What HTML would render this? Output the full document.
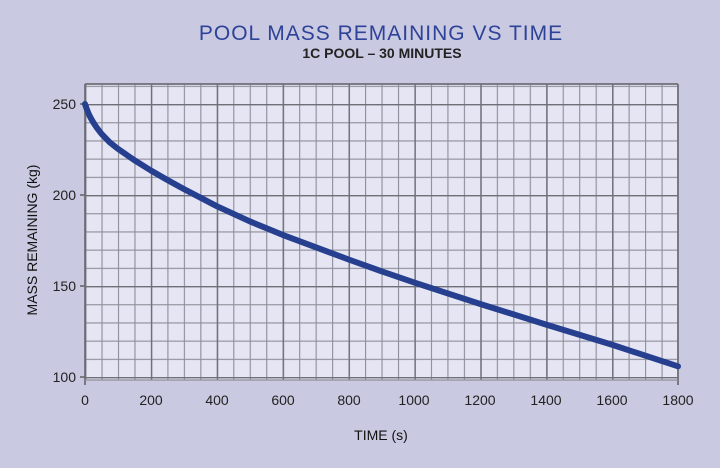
<!DOCTYPE html>
<html><head><style>
body{margin:0;background:#c9c9e1;}
svg{display:block;}
text{font-family:"Liberation Sans",sans-serif;}
</style></head><body>
<svg width="720" height="468" viewBox="0 0 720 468">
<defs>
<pattern id="mi" patternUnits="userSpaceOnUse" x="85" y="104" width="16.472" height="18.2">
<path d="M0.5 0V18.2M0 0.5H16.472" stroke="#8e8e99" stroke-width="1.2" fill="none"/>
</pattern>
<pattern id="ma" patternUnits="userSpaceOnUse" x="85" y="104" width="65.889" height="91">
<path d="M0.5 0V91M0 0.5H65.889" stroke="#6f6f78" stroke-width="1.8" fill="none"/>
</pattern>
</defs>
<rect width="720" height="468" fill="#c9c9e1"/>
<rect x="85" y="84" width="593" height="296" fill="#e5e5f3"/>
<rect x="85" y="84" width="593" height="296" fill="url(#mi)"/>
<rect x="85" y="84" width="593" height="296" fill="url(#ma)"/>
<path d="M85 84V385M678 84V385M85 84H678M80 104H85M80 195H85M80 286H85M80 377H85" stroke="#6f6f78" stroke-width="1.8" fill="none"/>
<path d="M85 380H678" stroke="#8e8e99" stroke-width="1.2"/>
<text x="381" y="40" text-anchor="middle" font-size="21" fill="#2e4298" letter-spacing="1">POOL MASS REMAINING VS TIME</text>
<text x="382" y="58" text-anchor="middle" font-size="14" font-weight="bold" fill="#222">1C POOL – 30 MINUTES</text>
<g font-size="14" fill="#222" text-anchor="end">
<text x="76" y="109">250</text><text x="76" y="200">200</text><text x="76" y="291">150</text><text x="76" y="382">100</text>
</g>
<g font-size="14" fill="#222" text-anchor="middle">
<text x="85" y="405">0</text><text x="151" y="405">200</text><text x="217" y="405">400</text><text x="283" y="405">600</text><text x="349" y="405">800</text><text x="414" y="405">1000</text><text x="480" y="405">1200</text><text x="546" y="405">1400</text><text x="612" y="405">1600</text><text x="678" y="405">1800</text>
</g>
<text x="381" y="440" text-anchor="middle" font-size="14" fill="#111">TIME (s)</text>
<text transform="translate(37,240) rotate(-90)" text-anchor="middle" font-size="14" fill="#111">MASS REMAINING (kg)</text>
<polyline points="85,104 86.6,108.6 88.3,113 90.6,117.8 93.2,122.3 97,128 101.5,133.8 109.7,142.3 117.9,148.8 134.4,160.2 150.9,170.5 167.4,180 183.8,189 216.8,206.2 249.7,221.3 282.7,234.9 315.6,247.2 348.6,259.5 381.5,271.3 414.4,282.6 480.3,304 546.2,324.6 612.1,344.8 678,366.3" fill="none" stroke="#263f8f" stroke-width="6" stroke-linecap="round" stroke-linejoin="round"/>
</svg>
</body></html>
